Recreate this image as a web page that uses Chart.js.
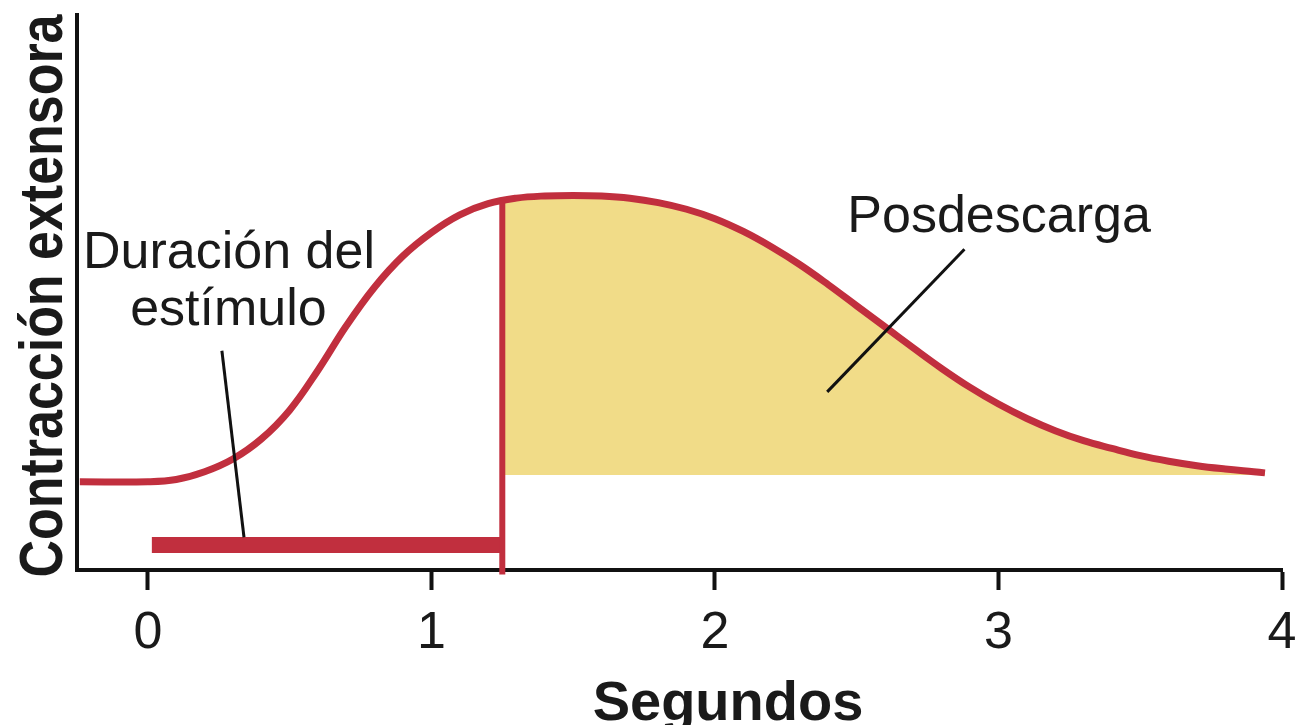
<!DOCTYPE html>
<html>
<head>
<meta charset="utf-8">
<script src="https://cdn.jsdelivr.net/npm/chart.js@4/dist/chart.umd.min.js"></script>
<style>
  html, body { margin: 0; padding: 0; background: #ffffff; }
  #wrap { width: 1302px; height: 725px; }
</style>
</head>
<body>
<div id="wrap"><canvas id="c" width="1302" height="725"></canvas></div>
<script>
// ---- data ----
const tickValues = [0, 1, 2, 3, 4];
const xTitle = "Segundos";
const yTitle = "Contracción extensora";

// contraction curve: seconds vs contraction (arbitrary 0-100 units)
const curveX = [-0.24, 0.0, 0.1, 0.2, 0.3, 0.4, 0.5, 0.6, 0.7, 0.8, 0.9, 1.0, 1.1, 1.2, 1.3, 1.4, 1.5, 1.6, 1.7, 1.8, 1.9, 2.0, 2.1, 2.2, 2.3, 2.4, 2.5, 2.6, 2.7, 2.8, 2.9, 3.0, 3.1, 3.2, 3.3, 3.4, 3.5, 3.6, 3.7, 3.8, 3.9, 3.94];
const curveY = [15.9, 15.9, 16.3, 17.7, 20.0, 23.6, 28.8, 36.0, 44.0, 51.0, 56.6, 60.8, 64.0, 66.0, 67.0, 67.4, 67.5, 67.4, 67.0, 66.2, 65.0, 63.3, 61.0, 58.2, 55.0, 51.4, 47.6, 43.8, 40.0, 36.3, 32.9, 29.9, 27.3, 25.1, 23.3, 21.9, 20.6, 19.6, 18.8, 18.2, 17.7, 17.5];

// after-discharge area (shaded), starts at the end of the stimulus
const afterX = [1.25, 1.3, 1.4, 1.5, 1.6, 1.7, 1.8, 1.9, 2.0, 2.1, 2.2, 2.3, 2.4, 2.5, 2.6, 2.7, 2.8, 2.9, 3.0, 3.1, 3.2, 3.3, 3.4, 3.5, 3.6, 3.7, 3.8, 3.9, 3.94];
const afterY = [66.6, 67.0, 67.4, 67.5, 67.4, 67.0, 66.2, 65.0, 63.3, 61.0, 58.2, 55.0, 51.4, 47.6, 43.8, 40.0, 36.3, 32.9, 29.9, 27.3, 25.1, 23.3, 21.9, 20.6, 19.6, 18.8, 18.2, 17.7, 17.5];
const afterBase = 17.1;

// stimulus duration bar and end-of-stimulus marker
const stimStart = 0.014;
const stimEnd = 1.25;
const stimLevel = 4.5;
const markerTop = 66.6;
const markerBottom = -0.8;

// leader lines for labels: [x1, y1, x2, y2]
const leaderStim = [0.261, 39.5, 0.339, 5.9];
const leaderAfter = [2.880, 57.8, 2.396, 32.1];

// annotation texts
const labelTexts = ["Duración del", "estímulo", "Posdescarga"];
const labelAnchors = [[0.286, 54.4], [0.284, 44.1], [3.002, 60.9]];

// ---- chart ----
const RED = '#c12f3e';
const INK = '#1a1a1a';
const toPts = (xs, ys) => xs.map((x, i) => ({ x: x, y: ys[i] }));

const textPlugin = {
  id: 'texts',
  afterDatasetsDraw(chart) {
    const { ctx, scales: { x, y } } = chart;
    ctx.save();
    ctx.fillStyle = INK;
    ctx.font = '52px "Liberation Sans", Arial, sans-serif';
    ctx.textAlign = 'center';
    ctx.textBaseline = 'alphabetic';
    labelTexts.forEach((t, i) => {
      ctx.fillText(t, x.getPixelForValue(labelAnchors[i][0]), y.getPixelForValue(labelAnchors[i][1]));
    });
    ctx.restore();
  },
  afterDraw(chart) {
    const { ctx } = chart;
    // x-axis title
    ctx.save();
    ctx.fillStyle = INK;
    ctx.font = 'bold 56px "Liberation Sans", Arial, sans-serif';
    ctx.textAlign = 'center';
    ctx.textBaseline = 'alphabetic';
    ctx.fillText(xTitle, 728, 720);
    ctx.restore();
    // y-axis title (rotated, condensed to the reference length)
    ctx.save();
    ctx.fillStyle = INK;
    ctx.font = 'bold 62px "Liberation Sans", Arial, sans-serif';
    ctx.textAlign = 'center';
    ctx.textBaseline = 'alphabetic';
    const w = ctx.measureText(yTitle).width;
    const k = 563 / w;
    ctx.translate(62, 296);
    ctx.rotate(-Math.PI / 2);
    ctx.scale(k, 1);
    ctx.fillText(yTitle, 0, 0);
    ctx.restore();
  }
};

new Chart(document.getElementById('c'), {
  type: 'scatter',
  data: {
    datasets: [
      {
        label: 'area',
        data: toPts(afterX, afterY),
        showLine: true,
        borderWidth: 0,
        borderColor: 'rgba(0,0,0,0)',
        backgroundColor: '#f1dc88',
        fill: { value: afterBase },
        pointRadius: 0,
        tension: 0.4,
        order: 5
      },
      {
        label: 'curve',
        data: toPts(curveX, curveY),
        showLine: true,
        borderWidth: 7,
        borderColor: RED,
        pointRadius: 0,
        fill: false,
        tension: 0.4,
        order: 2
      },
      {
        label: 'marker',
        data: [{ x: stimEnd, y: markerTop }, { x: stimEnd, y: markerBottom }],
        showLine: true,
        borderWidth: 6,
        borderColor: RED,
        borderCapStyle: 'butt',
        pointRadius: 0,
        clip: false,
        order: 1
      },
      {
        label: 'stimulus',
        data: [{ x: stimStart, y: stimLevel }, { x: stimEnd, y: stimLevel }],
        showLine: true,
        borderWidth: 16,
        borderColor: RED,
        borderCapStyle: 'butt',
        pointRadius: 0,
        order: 3
      },
      {
        label: 'leader1',
        data: [{ x: leaderStim[0], y: leaderStim[1] }, { x: leaderStim[2], y: leaderStim[3] }],
        showLine: true,
        borderWidth: 3,
        borderColor: '#111111',
        pointRadius: 0,
        order: 0
      },
      {
        label: 'leader2',
        data: [{ x: leaderAfter[0], y: leaderAfter[1] }, { x: leaderAfter[2], y: leaderAfter[3] }],
        showLine: true,
        borderWidth: 3,
        borderColor: '#111111',
        pointRadius: 0,
        order: 0
      }
    ]
  },
  options: {
    responsive: false,
    animation: false,
    layout: { padding: { top: 15, right: 20, left: 0, bottom: 0 } },
    plugins: { legend: { display: false }, tooltip: { enabled: false } },
    scales: {
      x: {
        type: 'linear',
        min: -0.25,
        max: 4,
        afterBuildTicks: (s) => { s.ticks = tickValues.map(v => ({ value: v })); },
        afterFit: (s) => { s.height = 155; s.paddingLeft = 0; s.paddingRight = 0; },
        grid: {
          display: true,
          drawOnChartArea: false,
          drawTicks: true,
          tickLength: 20,
          tickWidth: 4,
          tickColor: '#111111'
        },
        border: { display: true, color: '#111111', width: 4 },
        ticks: {
          color: INK,
          font: { family: '"Liberation Sans", Arial, sans-serif', size: 52 },
          padding: 12,
          maxRotation: 0,
          autoSkip: false
        },
        title: { display: false }
      },
      y: {
        type: 'linear',
        min: 0,
        max: 100,
        afterFit: (s) => { s.width = 77; s.paddingTop = 0; s.paddingBottom = 0; },
        grid: { display: false },
        border: { display: true, color: '#111111', width: 4 },
        ticks: { display: false },
        title: { display: false }
      }
    }
  },
  plugins: [textPlugin]
});
</script>
</body>
</html>
